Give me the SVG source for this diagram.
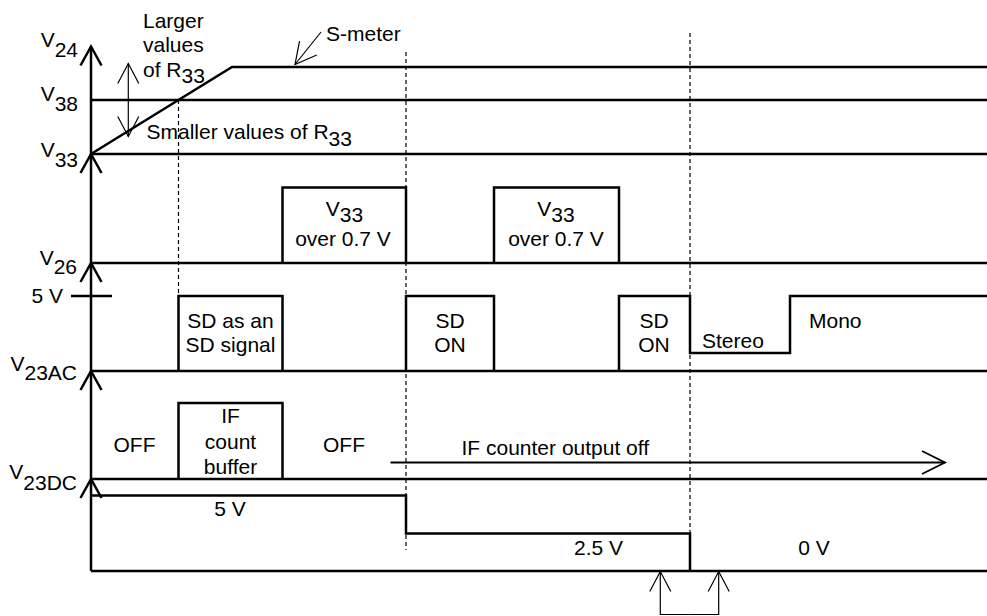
<svg xmlns="http://www.w3.org/2000/svg" width="987" height="616" viewBox="0 0 987 616">
<style>
.ln{fill:none;stroke:#000;stroke-width:2.5;stroke-linejoin:miter}
.th{fill:none;stroke:#000;stroke-width:1.2}
.md{fill:none;stroke:#000;stroke-width:1.8}
.ds{fill:none;stroke:#000;stroke-width:1.2;stroke-dasharray:4 3}
text{font-family:"Liberation Sans",Arial,sans-serif;font-size:21px;fill:#000}
.mid{text-anchor:middle}
.end{text-anchor:end}
</style>
<defs>
<marker id="ah" markerUnits="userSpaceOnUse" markerWidth="1" markerHeight="1" refX="0" refY="0" orient="auto" overflow="visible">
<path d="M-19,-10.5 L0,0 L-19,10.5" fill="none" stroke="#000" stroke-width="2.5"/>
</marker>
<marker id="aht" markerUnits="userSpaceOnUse" markerWidth="1" markerHeight="1" refX="0" refY="0" orient="auto" overflow="visible">
<path d="M-20,-10.5 L0,0 L-20,10.5" fill="none" stroke="#000" stroke-width="1.2"/>
</marker>
<marker id="ahs" markerUnits="userSpaceOnUse" markerWidth="1" markerHeight="1" refX="0" refY="0" orient="auto" overflow="visible">
<path d="M-21,-11 L0,0 L-21,11" fill="none" stroke="#000" stroke-width="1.2"/>
</marker>
<marker id="ahm" markerUnits="userSpaceOnUse" markerWidth="1" markerHeight="1" refX="0" refY="0" orient="auto" overflow="visible">
<path d="M-23,-11.5 L0,0 L-23,11.5" fill="none" stroke="#000" stroke-width="1.8"/>
</marker>
</defs>

<g id="guides">
<line class="ds" x1="178.5" y1="100" x2="178.5" y2="296"/>
<line class="ds" x1="406" y1="52" x2="406" y2="550"/>
<line class="ds" x1="690" y1="33" x2="690" y2="533"/>
</g>

<g id="axis">
<line class="ln" x1="91" y1="571" x2="91" y2="479" marker-end="url(#ah)"/>
<line class="ln" x1="91" y1="479" x2="91" y2="371" marker-end="url(#ah)"/>
<line class="ln" x1="91" y1="371" x2="91" y2="263" marker-end="url(#ah)"/>
<line class="ln" x1="91" y1="263" x2="91" y2="154" marker-end="url(#ah)"/>
<line class="ln" x1="91" y1="154" x2="91" y2="46.5" marker-end="url(#ah)"/>
<line class="ln" x1="71" y1="296" x2="112" y2="296"/>
</g>

<g id="row-smeter">
<line class="ln" x1="91" y1="100" x2="987" y2="100"/>
<line class="ln" x1="91" y1="154" x2="987" y2="154"/>
<polyline class="ln" points="91,154 232,67 987,67"/>
<text class="end" x="78" y="47">V<tspan dy="10">24</tspan></text>
<text class="end" x="78" y="101">V<tspan dy="10">38</tspan></text>
<text class="end" x="78" y="157">V<tspan dy="10">33</tspan></text>
<text x="143" y="28">Larger</text>
<text x="143" y="52">values</text>
<text x="143" y="77">of R<tspan dy="6">33</tspan></text>
<text x="146.5" y="139">Smaller values of R<tspan dy="7">33</tspan></text>
<text x="326" y="41">S-meter</text>
</g>

<g id="row-v26">
<line class="ln" x1="91" y1="263" x2="987" y2="263"/>
<polyline class="ln" points="282.5,263 282.5,187.5 406,187.5 406,263"/>
<polyline class="ln" points="494,263 494,187.5 619,187.5 619,263"/>
<text class="end" x="77" y="265">V<tspan dy="9">26</tspan></text>
<text class="mid" x="344.5" y="216">V<tspan dy="6">33</tspan></text>
<text class="mid" x="343" y="246">over 0.7 V</text>
<text class="mid" x="556" y="216">V<tspan dy="6">33</tspan></text>
<text class="mid" x="556" y="246">over 0.7 V</text>
</g>

<g id="row-v23ac">
<line class="ln" x1="91" y1="371" x2="987" y2="371"/>
<polyline class="ln" points="178.5,371 178.5,296 282.5,296 282.5,371"/>
<polyline class="ln" points="406,371 406,296 494,296 494,371"/>
<polyline class="ln" points="619,371 619,296 690,296 690,353 790,353 790,296 987,296"/>
<text class="end" x="63" y="303">5 V</text>
<text class="end" x="77" y="371">V<tspan dy="9">23AC</tspan></text>
<text class="mid" x="230.5" y="328">SD as an</text>
<text class="mid" x="230.5" y="352">SD signal</text>
<text class="mid" x="450" y="328">SD</text>
<text class="mid" x="450" y="352">ON</text>
<text class="mid" x="654" y="328">SD</text>
<text class="mid" x="654" y="352">ON</text>
<text x="702" y="348">Stereo</text>
<text x="809" y="328">Mono</text>
</g>

<g id="row-v23dc">
<line class="ln" x1="91" y1="479" x2="987" y2="479"/>
<polyline class="ln" points="178.5,479 178.5,403 282.5,403 282.5,479"/>
<polyline class="ln" points="91,495.5 406,495.5 406,533.5 690,533.5 690,571"/>
<line class="ln" x1="91" y1="571" x2="987" y2="571"/>
<text class="end" x="77" y="479">V<tspan dy="11">23DC</tspan></text>
<text class="mid" x="134.5" y="452">OFF</text>
<text class="mid" x="230.5" y="423">IF</text>
<text class="mid" x="230.5" y="449">count</text>
<text class="mid" x="230.5" y="474">buffer</text>
<text class="mid" x="344" y="452">OFF</text>
<text x="461.5" y="455">IF counter output off</text>
<text class="mid" x="230" y="516">5 V</text>
<text class="mid" x="598.5" y="555">2.5 V</text>
<text class="mid" x="814" y="555">0 V</text>
</g>

<g id="connectors">
<line class="th" x1="128.3" y1="100" x2="128.3" y2="63.5" marker-end="url(#aht)"/>
<line class="th" x1="128.3" y1="100" x2="128.3" y2="136.5" marker-end="url(#aht)"/>
<line class="th" x1="321" y1="32" x2="295" y2="64.5" marker-end="url(#ahs)"/>
<line class="md" x1="390.5" y1="462.5" x2="945" y2="462.5" marker-end="url(#ahm)"/>
<polyline class="th" points="689.5,614.5 660.3,614.5 660.3,571.5" marker-end="url(#aht)"/>
<polyline class="th" points="689.5,614.5 718.7,614.5 718.7,571.5" marker-end="url(#aht)"/>
</g>
</svg>
